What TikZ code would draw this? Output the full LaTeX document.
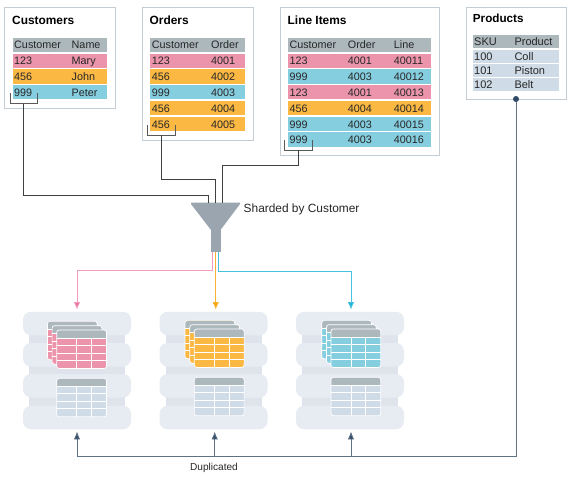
\documentclass[tikz,border=0pt]{standalone}
\usepackage{fontspec}
\setmainfont{Liberation Sans}
\usetikzlibrary{arrows.meta, positioning, calc}
\definecolor{pinkrow}{HTML}{EC94AC}
\definecolor{orangerow}{HTML}{FBB843}
\definecolor{bluerow}{HTML}{85CEE0}
\definecolor{greyrow}{HTML}{CFDBE6}
\definecolor{headrow}{HTML}{ADB8BD}
\definecolor{boxline}{HTML}{C3CDD3}
\definecolor{lobefill}{HTML}{E7EBF2}
\definecolor{bandfill}{HTML}{DFE4EC}
\definecolor{funnelfill}{HTML}{9AA5B0}
\definecolor{dupline}{HTML}{5F7183}
\definecolor{duptip}{HTML}{2E4A66}
\definecolor{pinkline}{HTML}{F49BBE}
\definecolor{pinktip}{HTML}{EC6FA0}
\definecolor{orangeline}{HTML}{F9B233}
\definecolor{orangetip}{HTML}{F7A600}
\definecolor{blueline}{HTML}{45C3DE}
\definecolor{bluetip}{HTML}{1BB4DC}
% one small table of a shard: x, y of the top left corner, fill
\newcommand{\minitable}[3]{
  \begin{scope}
    \clip[rounded corners=2.5pt] (#1,#2) rectangle ++(49.8,38.5);
    \fill[#3] (#1,#2) rectangle ++(49.8,38.5);
    \fill[headrow] (#1,#2) rectangle ++(49.8,8);
    \foreach \dy in {8,15.5,23,30.5} \draw[white, line width=0.7pt] (#1,#2+\dy) -- ++(49.8,0);
    \foreach \dx in {20,34.7} \draw[white, line width=0.7pt] (#1+\dx,#2+8) -- ++(0,30.5);
  \end{scope}
  \draw[white, line width=0.7pt, rounded corners=2.5pt] (#1,#2) rectangle ++(49.8,38.5);
}
\begin{document}
\begin{tikzpicture}[
    x=1pt, y=-1pt,
    tablebox/.style={draw=boxline, line width=0.8pt, fill=white, rectangle, inner sep=0pt},
    rowbox/.style={rectangle, inner sep=0pt, minimum height=14.5pt},
    cell/.style={anchor=base west, inner sep=0pt, font=\fontsize{10.8}{12}\selectfont, text=black!85},
    smallcell/.style={anchor=base west, inner sep=0pt, font=\fontsize{11}{12}\selectfont, text=black!85},
    tabletitle/.style={anchor=base west, inner sep=0pt, font=\fontsize{11.9}{13}\selectfont\bfseries},
    bracket/.style={draw=black!65, line width=0.8pt},
    link/.style={draw=black!75, line width=0.8pt},
    lobe/.style={rectangle, rounded corners=8pt, fill=lobefill, minimum width=108pt, minimum height=23.5pt, inner sep=0pt},
    pinkarrow/.style={-{Latex[length=7.5pt,width=6.5pt,fill=pinktip]}, draw=pinkline, line width=0.8pt, shorten >=2pt},
    orangearrow/.style={-{Latex[length=7.5pt,width=6.5pt,fill=orangetip]}, draw=orangeline, line width=0.8pt, shorten >=2pt},
    bluearrow/.style={-{Latex[length=7.5pt,width=6.5pt,fill=bluetip]}, draw=blueline, line width=0.8pt, shorten >=2pt},
    duparrow/.style={-{Latex[length=8pt,width=6.5pt,fill=duptip]}, draw=dupline, line width=0.9pt, shorten >=2pt}
]
\useasboundingbox (0,0) rectangle (570,482);

% source tables
\node[tablebox, minimum width=111pt, minimum height=100.5pt] (customers) at (60,57.75) {};
\node[tablebox, minimum width=110.5pt, minimum height=132.5pt] (orders) at (197.75,73.75) {};
\node[tablebox, minimum width=159pt, minimum height=147.5pt] (lineitems) at (359.5,81.25) {};
\node[tablebox, minimum width=100pt, minimum height=91.5pt] (products) at (516,53.25) {};

\node[tabletitle] (customerstitle) at (12,24) {Customers};
\node[tabletitle] (orderstitle) at (149.5,24) {Orders};
\node[tabletitle] (lineitemstitle) at (287.5,24) {Line Items};
\node[tabletitle, font=\fontsize{11.7}{13}\selectfont\bfseries] (productstitle) at (472.7,22) {Products};

\foreach \n/\y/\col/\a/\b in {0/44.75/headrow/Customer/Name, 1/60.75/pinkrow/123/Mary, 2/76.5/orangerow/456/John, 3/92/bluerow/999/Peter} {
  \node[rowbox, fill=\col, minimum width=94pt] (cust\n) at (60,\y) {};
  \node[cell] at (14,\y+4) {\a};
  \node[cell] at (71.5,\y+4) {\b};
}
\foreach \n/\y/\col/\a/\b in {0/44.75/headrow/Customer/Order, 1/60.75/pinkrow/123/4001, 2/76.5/orangerow/456/4002, 3/92/bluerow/999/4003, 4/108/orangerow/456/4004, 5/124/orangerow/456/4005} {
  \node[rowbox, fill=\col, minimum width=95pt] (ord\n) at (197.5,\y) {};
  \node[cell] at (151.7,\y+4) {\a};
  \node[cell] at (211,\y+4) {\b};
}
\foreach \n/\y/\col/\a/\b/\c in {0/44.75/headrow/Customer/Order/Line, 1/60.75/pinkrow/123/4001/40011, 2/76.5/bluerow/999/4003/40012, 3/92/pinkrow/123/4001/40013, 4/108/orangerow/456/4004/40014, 5/124/bluerow/999/4003/40015, 6/139.5/bluerow/999/4003/40016} {
  \node[rowbox, fill=\col, minimum width=143pt] (line\n) at (359.5,\y) {};
  \node[cell] at (289.3,\y+4) {\a};
  \node[cell] at (347.7,\y+4) {\b};
  \node[cell] at (393.7,\y+4) {\c};
}
\foreach \n/\y/\col/\a/\b in {0/41.75/headrow/SKU/Product, 1/56.5/greyrow/100/Coll, 2/70.75/greyrow/101/Piston, 3/84.75/greyrow/102/Belt} {
  \node[rowbox, fill=\col, minimum width=86pt, minimum height=13pt] (prod\n) at (516,\y) {};
  \node[smallcell] at (474,\y+4) {\a};
  \node[smallcell] at (514.3,\y+4) {\b};
}

% key brackets
\draw[bracket] (10,93) |- (37.7,103.5) -- (37.7,93);
\draw[bracket] (147.5,125) |- (175,135) -- (175,125);
\draw[bracket] (284.7,139.5) |- (312.7,150) -- (312.7,139.5);
\coordinate (custkey) at (23.5,103.5);
\coordinate (ordkey) at (161.5,135);
\coordinate (linekey) at (298.7,150);

% funnel
\coordinate (funnel) at (215.6,202.5);
\node[rectangle, fill=funnelfill, minimum width=9.5pt, minimum height=24pt, inner sep=0pt] (stem) at (215.75,240) {};
\fill[funnelfill] (191,202.5) -- (240,202.5) -- (240,204) -- (220.5,230) -- (211,230) -- (191,204) -- cycle;
\node[anchor=base west, inner sep=0pt, font=\fontsize{11.9}{13}\selectfont, text=black!85] (shardlabel) at (243.5,212) {Sharded by Customer};

\draw[link] (custkey) -- ++(0,91.5) -| ([xshift=-7pt]funnel);
\draw[link] (ordkey) -- ++(0,44.5) -| (funnel);
\draw[link] (linekey) -- ++(0,15) -| ([xshift=6.7pt]funnel);

% shards
\foreach \s/\cx/\tx/\ty/\col in {A/77/56.7/330/pinkrow, B/213.5/194.3/329/orangerow, C/350/331/329/bluerow} {
  \fill[bandfill] (\cx-48,335) rectangle (\cx+48,406);
  \node[lobe] (srv\s1) at (\cx,323.5) {};
  \node[lobe] (srv\s2) at (\cx,354.75) {};
  \node[lobe] (srv\s3) at (\cx,385.75) {};
  \node[lobe] (srv\s4) at (\cx,417.5) {};
  \minitable{\tx-9.3}{\ty-8.7}{\col}
  \minitable{\tx-4.6}{\ty-4.3}{\col}
  \minitable{\tx}{\ty}{\col}
  \minitable{\tx}{\ty+48.3}{greyrow}
}

% shard arrows
\draw[pinkarrow] ([xshift=-3pt]stem.south) -- ++(0,18.5) -| (srvA1.north);
\draw[orangearrow] (stem.south) -- (stem.south |- srvB1.north);
\draw[bluearrow] ([xshift=2.8pt]stem.south) -- ++(0,19) -| ([xshift=1pt]srvC1.north);

% duplicated table
\node[circle, fill=duptip, minimum size=6pt, inner sep=0pt] (proddot) at (516,99) {};
\coordinate (dupbus) at (0,456);
\draw[duparrow] (proddot.south) -- ++(0,354) -| (srvA4.south);
\draw[duparrow] ([xshift=1.2pt]srvB4.south |- dupbus) -- ([xshift=1.2pt]srvB4.south);
\draw[duparrow] ([xshift=1pt]srvC4.south |- dupbus) -- ([xshift=1pt]srvC4.south);
\node[inner sep=0pt, font=\fontsize{10.1}{12}\selectfont, text=black!85] (duplabel) at (214,468) {Duplicated};
\end{tikzpicture}
\end{document}
